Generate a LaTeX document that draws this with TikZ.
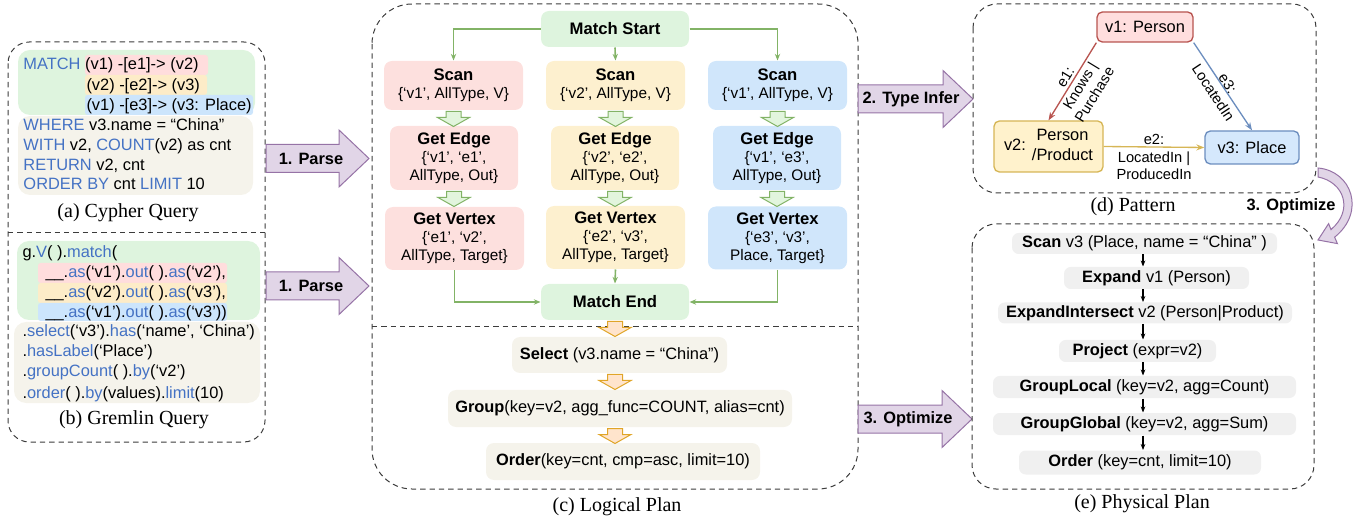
\documentclass[tikz,border=0pt]{standalone}
\usepackage{fontspec}
\setmainfont{Liberation Sans}
\newfontfamily\capfont{Liberation Serif}
\usetikzlibrary{arrows.meta}

\definecolor{kwblue}{RGB}{68,114,196}
\definecolor{dashgray}{RGB}{60,60,60}
\definecolor{greenfill}{RGB}{222,244,222}
\definecolor{redfill}{RGB}{253,224,222}
\definecolor{yellowfill}{RGB}{253,240,207}
\definecolor{bluefill}{RGB}{208,230,251}
\definecolor{beigefill}{RGB}{245,243,235}
\definecolor{grayfill}{RGB}{240,240,240}
\definecolor{hlred}{RGB}{255,221,221}
\definecolor{hlyellow}{RGB}{253,236,200}
\definecolor{hlblue}{RGB}{204,229,252}
\definecolor{flowgreen}{RGB}{130,179,102}
\definecolor{blkgreen}{RGB}{226,245,221}
\definecolor{blkorange}{RGB}{255,228,204}
\definecolor{orangeline}{RGB}{224,165,40}
\definecolor{purplefill}{RGB}{225,213,231}
\definecolor{purpleline}{RGB}{150,115,166}
\definecolor{vred}{RGB}{184,84,80}
\definecolor{vredfill}{RGB}{255,222,222}
\definecolor{vyellow}{RGB}{214,182,86}
\definecolor{vyellowfill}{RGB}{255,242,204}
\definecolor{vblue}{RGB}{108,142,191}
\definecolor{vbluefill}{RGB}{213,232,252}

\newcommand{\kw}[1]{\textcolor{kwblue}{#1}}
\newcommand{\op}[1]{\textbf{\fontsize{12.5}{13.5}\selectfont #1}}
\newcommand{\blockdn}[2]{\draw[#2] (#1) ++(-7.5,1) -- ++(0,6) -- ++(-8.5,0) -- ++(16,9) -- ++(16,-9) -- ++(-8.5,0) -- ++(0,-6) -- cycle;}
\newcommand{\bigarr}[3]{\draw[bigarrow] (#1,#3-14) -- (#2-30,#3-14) -- (#2-30,#3-28.5) -- (#2,#3) -- (#2-30,#3+28.5) -- (#2-30,#3+14) -- (#1,#3+14) -- cycle;}

\tikzset{every picture/.style={line width=0.75pt}}
\tikzset{
  sz/.style 2 args={minimum width=#1*0.75pt, minimum height=#2*0.75pt},
  panel/.style={draw=dashgray, dash pattern={on 4pt off 3pt}},
  code/.style={anchor=base west, inner sep=0pt, font=\fontsize{12.3}{15}\selectfont},
  caption/.style={inner sep=0pt, font=\capfont\fontsize{15}{18}\selectfont},
  lbox/.style={rounded corners=6pt, align=center, inner sep=0pt, font=\fontsize{11.5}{13.5}\selectfont},
  pbox/.style={fill=grayfill, rounded corners=5pt, inner sep=0pt, font=\fontsize{12.3}{15}\selectfont},
  vbox/.style={rounded corners=4pt, inner sep=0pt, line width=1pt, font=\fontsize{12.3}{15}\selectfont},
  elabel/.style={inner sep=1pt, align=center, font=\fontsize{11}{12.75}\selectfont},
  flow/.style={draw=flowgreen, line width=1.2pt, -{Stealth[length=5pt,width=4pt]}},
  gblk/.style={draw=flowgreen, fill=blkgreen, line width=0.75pt},
  oblk/.style={draw=orangeline, fill=blkorange, line width=0.75pt},
  parr/.style={-{Stealth[length=4.5pt,width=3.5pt]}, line width=0.9pt},
  earr/.style={line width=1pt, -{Stealth[length=6pt,width=4.5pt]}},
  bigarrow/.style={draw=purpleline, fill=purplefill, line width=0.75pt},
  arrlabel/.style={inner sep=0pt, font=\bfseries\fontsize{12.3}{15}\selectfont},
}

\begin{document}
\begin{tikzpicture}[x=0.75pt,y=0.75pt,yscale=-1,xscale=1]
\useasboundingbox (0,0) rectangle (1369,523);

% (a) and (b) queries
\draw [panel, rounded corners=16pt] (8,42) rectangle (265,442) ;
\draw [panel] (8,233) -- (265,233) ;

\fill [greenfill, rounded corners=9pt] (18,50) rectangle (255,115) ;
\fill [hlred, rounded corners=2pt] (85,55) rectangle (208,75) ;
\fill [hlyellow, rounded corners=2pt] (85,75) rectangle (207,95) ;
\fill [hlblue, rounded corners=2pt] (85,95) rectangle (253,115) ;
\fill [beigefill, rounded corners=9pt] (18,116) rectangle (253,195) ;

\node [code] (cyA) at (23,70) {\kw{MATCH} (v1) -[e1]-> (v2)};
\node [code] (cyB) at (86,91) {(v2) -[e2]-> (v3)};
\node [code] (cyC) at (86,111) {(v1) -[e3]-> (v3: Place)};
\node [code] (cyD) at (23,131) {\kw{WHERE} v3.name = “China”};
\node [code] (cyE) at (23,151) {\kw{WITH} v2, \kw{COUNT}(v2) as cnt};
\node [code] (cyF) at (23,171) {\kw{RETURN} v2, cnt};
\node [code] (cyG) at (23,190) {\kw{ORDER BY} cnt \kw{LIMIT} 10};
\node [caption] (capA) at (128,213) {(a) Cypher Query};

\fill [greenfill, rounded corners=9pt] (17,241) rectangle (260,320) ;
\fill [hlred, rounded corners=2pt] (38,263) rectangle (227,283) ;
\fill [hlyellow, rounded corners=2pt] (38,283) rectangle (227,303) ;
\fill [hlblue, rounded corners=2pt] (38,303) rectangle (227,321) ;
\fill [beigefill, rounded corners=9pt] (14,322) rectangle (260,403) ;

\node [code] (grA) at (22,258) {g.\kw{V}( ).\kw{match}(};
\node [code] (grB) at (45,278) {\_\_.\kw{as}(‘v1’).\kw{out}( ).\kw{as}(‘v2’),};
\node [code] (grC) at (45,298) {\_\_.\kw{as}(‘v2’).\kw{out}( ).\kw{as}(‘v3’),};
\node [code] (grD) at (45,318) {\_\_.\kw{as}(‘v1’).\kw{out}( ).\kw{as}(‘v3’))};
\node [code] (grE) at (22,337) {.\kw{select}(‘v3’).\kw{has}(‘name’, ‘China’)};
\node [code] (grF) at (22,357) {.\kw{hasLabel}(‘Place’)};
\node [code] (grG) at (22,377) {.\kw{groupCount}( ).\kw{by}(‘v2’)};
\node [code] (grH) at (22,398) {.\kw{order}( ).\kw{by}(values).\kw{limit}(10)};
\node [caption] (capB) at (134,420) {(b) Gremlin Query};

\bigarr{266}{369}{158.5}
\bigarr{266}{369}{286}
\node [arrlabel] (parseA) at (311,158.5) {1. Parse};
\node [arrlabel] (parseB) at (311,286) {1. Parse};

% (c) logical plan
\draw [panel, rounded corners=30pt] (372,4) rectangle (858,489) ;
\draw [panel] (372,327) -- (858,327) ;

\node [lbox, fill=greenfill, sz={148}{36}] (mstart) at (615,29) {\op{Match Start}};
\node [lbox, fill=redfill, sz={139}{49}] (scanA) at (453.5,85.5) {\op{Scan}\\\{‘v1’, AllType, V\}};
\node [lbox, fill=yellowfill, sz={139}{49}] (scanB) at (615.5,85.5) {\op{Scan}\\\{‘v2’, AllType, V\}};
\node [lbox, fill=bluefill, sz={139}{49}] (scanC) at (777.5,85.5) {\op{Scan}\\\{‘v1’, AllType, V\}};
\node [lbox, fill=redfill, sz={128}{64}] (edgeA) at (454,158) {\op{Get Edge}\\\{‘v1’, ‘e1’,\\AllType, Out\}};
\node [lbox, fill=yellowfill, sz={128}{64}] (edgeB) at (615,158) {\op{Get Edge}\\\{‘v2’, ‘e2’,\\AllType, Out\}};
\node [lbox, fill=bluefill, sz={128}{64}] (edgeC) at (777,158) {\op{Get Edge}\\\{‘v1’, ‘e3’,\\AllType, Out\}};
\node [lbox, fill=redfill, sz={139}{63}] (vertA) at (454.5,238.5) {\op{Get Vertex}\\\{‘e1’, ‘v2’,\\AllType, Target\}};
\node [lbox, fill=yellowfill, sz={139}{63}] (vertB) at (615.5,237.5) {\op{Get Vertex}\\\{‘e2’, ‘v3’,\\AllType, Target\}};
\node [lbox, fill=bluefill, sz={139}{63}] (vertC) at (777.5,238) {\op{Get Vertex}\\\{‘e3’, ‘v3’,\\Place, Target\}};
\node [lbox, fill=greenfill, sz={148}{36}] (mend) at (615,302) {\op{Match End}};

\node [lbox, fill=beigefill, sz={215}{36}, font=\fontsize{12.3}{15}\selectfont] (select) at (619.5,355) {\textbf{Select} (v3.name = “China”)};
\node [lbox, fill=beigefill, sz={344}{37}, font=\fontsize{12.3}{15}\selectfont] (group) at (620,408.5) {\textbf{Group}(key=v2, agg\_func=COUNT, alias=cnt)};
\node [lbox, fill=beigefill, sz={274}{37}, font=\fontsize{12.3}{15}\selectfont] (order) at (623,461.5) {\textbf{Order}(key=cnt, cmp=asc, limit=10)};

\draw [flow] (mstart.west) -| (scanA.north) ;
\draw [flow] (mstart.south) -- (scanB.north) ;
\draw [flow] (mstart.east) -| (scanC.north) ;
\draw [flow] (vertA.south) |- (mend.west) ;
\draw [flow] (vertB.south) -- (mend.north) ;
\draw [flow] (vertC.south) |- (mend.east) ;

\blockdn{scanA.south}{gblk}
\blockdn{scanB.south}{gblk}
\blockdn{scanC.south}{gblk}
\blockdn{edgeA.south}{gblk}
\blockdn{edgeB.south}{gblk}
\blockdn{edgeC.south}{gblk}
\blockdn{mend.south}{oblk}
\blockdn{select.south -| mend.south}{oblk}
\blockdn{group.south -| mend.south}{oblk}

\node [caption] (capC) at (617,507) {(c) Logical Plan};

\bigarr{858}{973}{99}
\bigarr{858}{972}{419}
\node [arrlabel] (infer) at (911,99) {2. Type Infer};
\node [arrlabel] (optA) at (908,419) {3. Optimize};

% (d) pattern
\draw [panel, rounded corners=18pt] (973,4) rectangle (1316,193) ;
\node [vbox, draw=vred, fill=vredfill, sz={96}{30}] (v1) at (1145,27) {v1: Person};
\node [vbox, draw=vyellow, fill=vyellowfill, sz={109}{51}] (v2) at (1048.5,146.5) {v2: \begin{tabular}{@{}c@{}}Person\\/Product\end{tabular}};
\node [vbox, draw=vblue, fill=vbluefill, sz={94}{33}] (v3) at (1252,147.5) {v3: Place};

\draw [earr, vred] (v1.south west) -- (v2.north) ;
\draw [earr, vblue] (v1.south east) -- (v3.north) ;
\draw [earr, vyellow] (v2.east) -- node [elabel, above, text=black] (e2) {e2:} node [elabel, below=2pt, text=black] (e2t) {LocatedIn |\\ProducedIn} (v3.west) ;
\node [elabel, rotate=58.7] (e1) at (1080,86) {e1:\\Knows |\\Purchase};
\node [elabel, rotate=-56.5] (e3) at (1220.5,88) {e3:\\LocatedIn};
\node [caption] (capD) at (1133,207) {(d) Pattern};

\draw [bigarrow] (1318,168) .. controls (1352,171) and (1366,212) .. (1334.6,237.2) -- (1337.4,243.6) -- (1318,240) -- (1328.6,223.6) -- (1331,229.6) .. controls (1354,210) and (1344,182) .. (1318,177) -- cycle ;
\node [arrlabel] (optB) at (1291,206) {3. Optimize};

% (e) physical plan
\draw [panel, rounded corners=18pt] (972,224) rectangle (1314,489) ;
\coordinate (px) at (1143,0) ;
\node [pbox, sz={265}{21}] (pscan) at (1144.5,243.5) {\textbf{Scan} v3 (Place, name = “China” )};
\node [pbox, sz={185}{22}] (pexp) at (1156.5,278) {\textbf{Expand} v1 (Person)};
\node [pbox, sz={294}{21}] (pexi) at (1145,313) {\textbf{ExpandIntersect} v2 (Person|Product)};
\node [pbox, sz={157}{22}] (pproj) at (1137.5,351) {\textbf{Project} (expr=v2)};
\node [pbox, sz={303}{22}] (plocal) at (1144.5,387) {\textbf{GroupLocal} (key=v2, agg=Count)};
\node [pbox, sz={303}{22}] (pglobal) at (1144.5,424) {\textbf{GroupGlobal} (key=v2, agg=Sum)};
\node [pbox, sz={242}{24}] (porder) at (1140,462.5) {\textbf{Order} (key=cnt, limit=10)};

\draw [parr] (pscan.south -| px) -- (pexp.north -| px) ;
\draw [parr] (pexp.south -| px) -- (pexi.north -| px) ;
\draw [parr] (pexi.south -| px) -- (pproj.north -| px) ;
\draw [parr] (pproj.south -| px) -- (plocal.north -| px) ;
\draw [parr] (plocal.south -| px) -- (pglobal.north -| px) ;
\draw [parr] (pglobal.south -| px) -- (porder.north -| px) ;
\node [caption] (capE) at (1142,504) {(e) Physical Plan};

\end{tikzpicture}
\end{document}
